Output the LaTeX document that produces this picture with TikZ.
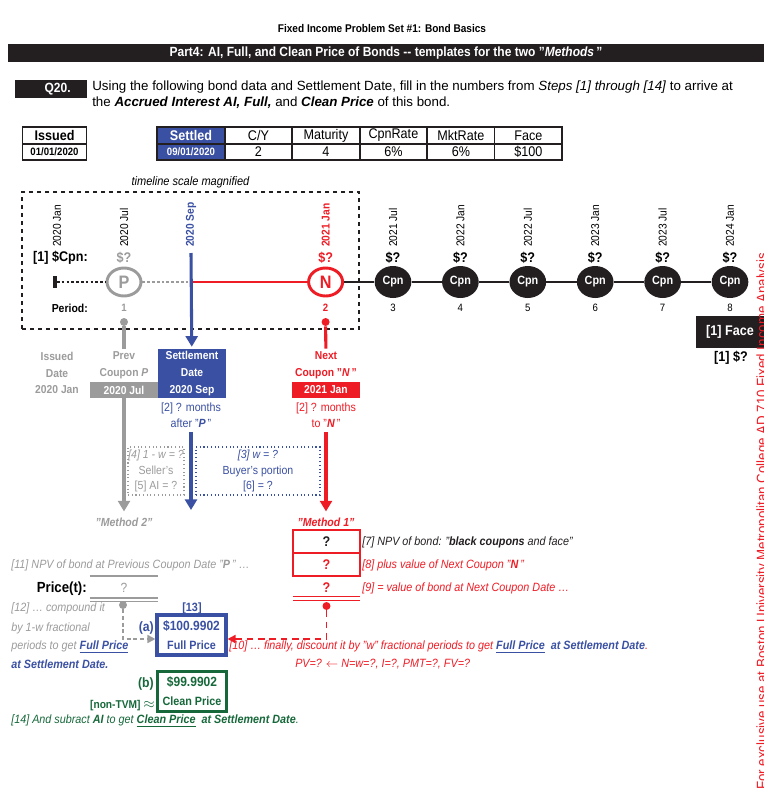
\documentclass[tikz,border=0pt]{standalone}
\usepackage{fontspec}
\setmainfont[FakeStretch=0.9]{Liberation Sans}
\newfontfamily\widefont{Liberation Sans}
\usetikzlibrary{arrows.meta, positioning, calc, shapes.geometric}
\definecolor{setblue}{HTML}{3A50A2}
\definecolor{nxtred}{HTML}{EE1C25}
\definecolor{prvgray}{HTML}{9B9B9B}
\definecolor{clngreen}{HTML}{16683A}
\definecolor{ink}{HTML}{231F20}
\newcommand{\fsz}[1]{\fontsize{#1}{#1}\selectfont}
\tikzset{
  txt/.style     = {inner sep=0pt, font=\fsz{8.8}},
  bd/.style      = {txt, font=\fsz{8.6}\bfseries},
  dt/.style      = {txt, rotate=90, anchor=west, font=\fsz{8.5}},
  dol/.style     = {txt, font=\fsz{10.5}\bfseries},
  cpn/.style     = {ellipse, fill=ink, minimum width=27.5pt, minimum height=24pt, inner sep=0pt, text=white, font=\fsz{9}\bfseries},
  cpr/.style     = {ellipse, draw, line width=2.2pt, fill=white, minimum width=25.5pt, minimum height=21pt, inner sep=0pt, font=\fsz{13.5}\bfseries},
  cell/.style    = {draw=ink, line width=1.3pt, outer sep=0pt, minimum width=50.6pt, minimum height=12.4pt, inner sep=0pt, font=\fsz{10.5}},
  datebox/.style = {minimum width=51pt, minimum height=12pt, inner sep=0pt, text=white, font=\fsz{8.6}\bfseries},
  note/.style    = {txt, anchor=west, font=\fsz{9}\itshape},
  bigarr/.style  = {line width=2.3pt, -{Triangle[width=9pt,length=8pt]}},
  tl/.style      = {line width=2pt},
  dotbox/.style  = {draw, dotted, line width=0.8pt, inner sep=0pt, align=center, font=\fontsize{8.8}{11.6}\selectfont},
  dotpin/.style  = {circle, inner sep=0pt, minimum size=6pt},
  m1box/.style   = {draw=nxtred, line width=1.6pt, outer sep=0pt, minimum width=50.3pt, minimum height=17.25pt, inner sep=0pt, font=\fsz{10.5}\bfseries},
  pricebox/.style= {line width=2.3pt, minimum width=51.75pt, minimum height=30pt, inner sep=0pt, align=center, font=\fontsize{9}{14.25}\selectfont\bfseries}
}
\begin{document}
\begin{tikzpicture}[x=0.75pt, y=-0.75pt]
\useasboundingbox (0,0) rectangle (764,793);
%% ===== header =====
\node[bd, font=\fsz{8.4}\bfseries] (ttl) at (382,28) {Fixed Income Problem Set \#1: Bond Basics};
\node[fill=ink, minimum width=567pt, minimum height=13.5pt, inner sep=0pt, text=white, font=\fsz{10}\bfseries] (part) at (386,53)
  {Part4: AI, Full, and Clean Price of Bonds -{}- templates for the two "\textit{Methods}\,"};
\node[fill=ink, minimum width=54pt, minimum height=13.5pt, inner sep=0pt, text=white, font=\fsz{10}\bfseries] (q) at (51,89) {\hspace*{10pt}Q20.};
\node[txt, anchor=west, font=\widefont\fsz{10}] (q1) at (92,87) {Using the following bond data and Settlement Date, fill in the numbers from \textit{Steps [1] through [14]} to arrive at};
\node[txt, anchor=west, font=\widefont\fsz{10}] (q2) at (92,103) {the \textbf{\textit{Accrued Interest AI, Full,}} and \textbf{\textit{Clean Price}} of this bond.};
%% ===== bond data =====
\node[cell, minimum width=48pt, font=\fsz{10.5}\bfseries] (iss) at (54.5,135.5) {Issued};
\node[cell, minimum width=48pt, font=\fsz{8}\bfseries, below=0pt of iss] (issd) {01/01/2020};
\node[cell, fill=setblue, text=white, font=\fsz{10.5}\bfseries] (set) at (191,135.5) {Settled};
\node[cell, right=0pt of set] (cy) {C/Y};
\node[cell, right=0pt of cy] (mat) {Maturity};
\node[cell, right=0pt of mat] (cr) {CpnRate};
\node[cell, right=0pt of cr] (mr) {MktRate};
\node[cell, right=0pt of mr] (fc) {Face};
\node[cell, fill=setblue, text=white, font=\fsz{8}\bfseries, below=0pt of set] (setd) {09/01/2020};
\node[cell, below=0pt of cy] (cyv) {2};
\node[cell, below=0pt of mat] (matv) {4};
\node[cell, below=0pt of cr] (crv) {6\%};
\node[cell, below=0pt of mr] (mrv) {6\%};
\node[cell, below=0pt of fc] (fcv) {\$100};
%% ===== timeline =====
\node[draw=ink, dashed, line width=0.9pt, minimum width=252.75pt, minimum height=102.75pt, inner sep=0pt] (zoombox) at (190.5,260.5) {};
\node[txt, font=\fsz{9.2}\itshape, above=2pt of zoombox] (cap) {timeline scale magnified};
\node[dt] (d0) at (57,247) {2020 Jan};
\node[dt] (d1) at (124,247) {2020 Jul};
\node[dt, text=setblue, font=\fsz{8.5}\bfseries] (d2) at (191,247) {2020 Sep};
\node[dt, text=nxtred, font=\fsz{8.5}\bfseries] (dN) at (325.6,247) {2021 Jan};
\foreach \k/\x/\dl in {3/393/2021 Jul, 4/460.4/2022 Jan, 5/527.8/2022 Jul, 6/595.2/2023 Jan, 7/662.6/2023 Jul, 8/730/2024 Jan} {
  \node[dt] (d\k) at (\x,247) {\dl};
  \node[dol] (v\k) at (\x,258) {\$?};
  \node[cpn] (c\k) at (\x,282) {Cpn};
  \node[txt, font=\fsz{8}] (n\k) at (\x,308) {\k};
}
\node[bd, anchor=east, font=\fsz{10.5}\bfseries] (cpnlbl) at (88,258) {[1] \$Cpn:};
\node[dol, text=prvgray] (v1) at (124,258) {\$?};
\node[dol, text=nxtred] (v2) at (325.6,258) {\$?};
\node[cpr, draw=prvgray, text=prvgray] (P) at (124,282) {P};
\node[cpr, draw=nxtred, text=nxtred] (N) at (325.6,282) {N};
\node[fill=ink, minimum width=2.5pt, minimum height=9pt, inner sep=0pt] (iss0) at (55,282) {};
\coordinate (stl) at (191,282);
\coordinate (stltop) at (191,253);
\draw[tl, ink, dash pattern=on 2pt off 1.6pt] (iss0) -- (P);
\draw[tl, prvgray, dash pattern=on 2pt off 1.6pt] (P) -- (stl);
\draw[tl, nxtred] (stl) -- (N);
\foreach \a/\b in {N/c3, c3/c4, c4/c5, c5/c6, c6/c7, c7/c8}
  \draw[tl, ink] (\a) -- (\b);
\node[bd, anchor=east, font=\fsz{8.7}\bfseries] (perlbl) at (88,308) {Period:};
\node[txt, text=prvgray, font=\fsz{8}\bfseries] (n1) at (124,308) {1};
\node[txt, text=nxtred, font=\fsz{8}\bfseries] (n2) at (325.6,308) {2};
\node[dotpin, fill=prvgray] (gpin) at (124,322) {};
\node[dotpin, fill=nxtred] (rpin) at (325.6,322) {};
\node[fill=ink, minimum width=51pt, minimum height=24pt, inner sep=0pt, text=white, font=\fsz{10.5}\bfseries] (face) at (730,332) {[1] Face};
\node[dol] (facev) at (731,358) {[1] \$?};
%% ===== dates below the line =====
\node[bd, text=prvgray, align=center, font=\fontsize{8.6}{12.4}\selectfont\bfseries] (isslbl) at (57,373) {Issued\\Date\\2020 Jan};
\node[bd, text=prvgray, align=center, font=\fontsize{8.6}{12.4}\selectfont\bfseries] (prevlbl) at (124,365) {Prev\\Coupon \textit{P}};
\node[datebox, fill=prvgray] (prevbox) at (124,390) {2020 Jul};
\node[datebox, fill=setblue, minimum height=36.75pt, align=center, font=\fontsize{8.6}{12.4}\selectfont\bfseries] (setbox) at (192,373.5) {Settlement\\Date\\2020 Sep};
\node[bd, text=nxtred, align=center, font=\fontsize{8.6}{12.4}\selectfont\bfseries] (nextlbl) at (326,365) {Next\\Coupon "\textit{N}\,"};
\node[datebox, fill=nxtred] (nextbox) at (326,390) {2021 Jan};
\node[txt, text=setblue, align=center, font=\fontsize{8.9}{12}\selectfont] (after) at (191,415) {[2] ? months\\after "\textbf{\textit{P}}\,"};
\node[txt, text=nxtred, align=center, font=\fontsize{8.9}{12}\selectfont] (to) at (326,415) {[2] ? months\\to "\textbf{\textit{N}}\,"};
\draw[line width=2.3pt, prvgray, shorten >=2pt] (gpin) -- (prevlbl);
\draw[line width=2.3pt, nxtred, shorten >=2pt] (rpin) -- (nextlbl);
\draw[bigarr, setblue, shorten >=1.5pt] (stltop) -- (setbox);
%% ===== AI split =====
\node[dotbox, draw=prvgray, text=prvgray, minimum width=42pt, minimum height=36pt] (sell) at (156,471) {\textit{[4] 1 - w = ?}\\Seller's\\{}[5] AI = ?};
\node[dotbox, draw=setblue, text=setblue, minimum width=93pt, minimum height=36pt] (buy) at (258,471) {\textit{[3] w = ?}\\Buyer's portion\\{}[6] = ?};
\node[txt, text=prvgray, font=\fsz{8.8}\bfseries\itshape] (m2) at (124,522) {"Method 2"};
\node[txt, text=nxtred, font=\fsz{8.8}\bfseries\itshape] (m1) at (326,522) {"Method 1"};
\coordinate (btip) at (191,510);
\draw[bigarr, prvgray, shorten >=4.5pt] (prevbox) -- (m2);
\draw[bigarr, setblue, shorten <=3.5pt] (after) -- (btip);
\draw[bigarr, nxtred, shorten <=3.5pt, shorten >=4.5pt] (to) -- (m1);
%% ===== method 1 =====
\node[m1box, text=ink] (m1a) at (326.5,541.5) {?};
\node[m1box, text=nxtred, below=0pt of m1a] (m1b) {?};
\node[m1box, draw=none, text=nxtred, below=0pt of m1b, minimum height=16.9pt] (m1c) {?};
\draw[nxtred, line width=1pt, double=white, double distance=1.6pt] (m1c.south west) -- (m1c.south east);
\node[dotpin, fill=nxtred] (rpin2) at (326.5,606) {};
\node[note, text=ink] (a7) at (362,542) {[7] NPV of bond: "\textbf{black coupons} and face"};
\node[note, text=nxtred] (a8) at (362,565) {[8] plus value of Next Coupon "\textbf{N}\,"};
\node[note, text=nxtred] (a9) at (362,588) {[9] = value of bond at Next Coupon Date …};
%% ===== method 2 =====
\node[note, text=prvgray] (a11) at (11,565) {[11] NPV of bond at Previous Coupon Date "\textbf{P}\," …};
\node[bd, anchor=east, font=\fsz{11}\bfseries] (prlbl) at (87,589) {Price(t):};
\node[txt, text=prvgray, minimum width=51pt, minimum height=17.6pt, font=\fsz{10}] (m2c) at (124,587.75) {?};
\draw[prvgray, line width=1.3pt] (m2c.north west) -- (m2c.north east);
\draw[prvgray, line width=1pt, double=white, double distance=1.6pt] (m2c.south west) -- (m2c.south east);
\node[dotpin, fill=prvgray] (gpin2) at (123,605) {};
\node[note, text=prvgray] (a12) at (11,608) {[12] … compound it};
\node[note, text=prvgray] (a12b) at (11,628) {by 1-w fractional};
\node[note, text=prvgray] (a12c) at (11,647) {periods to get \textcolor{setblue}{\underline{\textbf{Full Price}}}};
\node[note, text=setblue, font=\fsz{9}\bfseries\itshape] (a12d) at (11,664) {at Settlement Date.};
%% ===== full and clean price =====
\node[txt, text=setblue, font=\fsz{9}\bfseries] (s13) at (192,608) {[13]};
\node[pricebox, draw=setblue, text=setblue] (full) at (191.5,635) {{\fsz{10}\$100.9902}\\Full Price};
\node[txt, anchor=east, text=setblue, font=\fsz{10.2}\bfseries] (pa) at (154,628) {(a)};
\node[pricebox, draw=clngreen, text=clngreen] (clean) at (192,691.5) {{\fsz{10}\$99.9902}\\Clean Price};
\node[txt, anchor=east, text=clngreen, font=\fsz{10.2}\bfseries] (pb) at (154,684) {(b)};
\node[txt, anchor=east, text=clngreen, font=\fsz{8.5}\bfseries] (ntvm) at (155,706) {[non-TVM] {\fsz{11}$\approx$}};
\draw[prvgray, line width=1.2pt, dash pattern=on 3pt off 2pt, -{Triangle[width=6pt,length=6pt]}] (gpin2) |- ([yshift=-3pt]full.west);
\draw[nxtred, line width=1.3pt, dash pattern=on 5pt off 3.5pt, -{Triangle[width=6pt,length=6pt]}] (rpin2) |- ([yshift=-3pt]full.east);
\node[note, text=nxtred] (a10) at (229,647) {[10] … finally, discount it by "w" fractional periods to get \textcolor{setblue}{\underline{\textbf{Full Price}}\enspace\textbf{at Settlement Date}}.};
\node[note, text=nxtred] (pv) at (295,664) {PV=? $\leftarrow$ N=w=?, I=?, PMT=?, FV=?};
\node[note, text=clngreen] (a14) at (11,721) {[14] And subract \textbf{AI} to get \underline{\textbf{Clean Price}}\enspace\textbf{at Settlement Date}.};
%% ===== margin =====
\node[txt, rotate=90, anchor=base west, text=nxtred, font=\fsz{11.1}] (use) at (767,790) {For exclusive use at Boston University Metropolitan College AD 710 Fixed Income Analysis};
\end{tikzpicture}
\end{document}
